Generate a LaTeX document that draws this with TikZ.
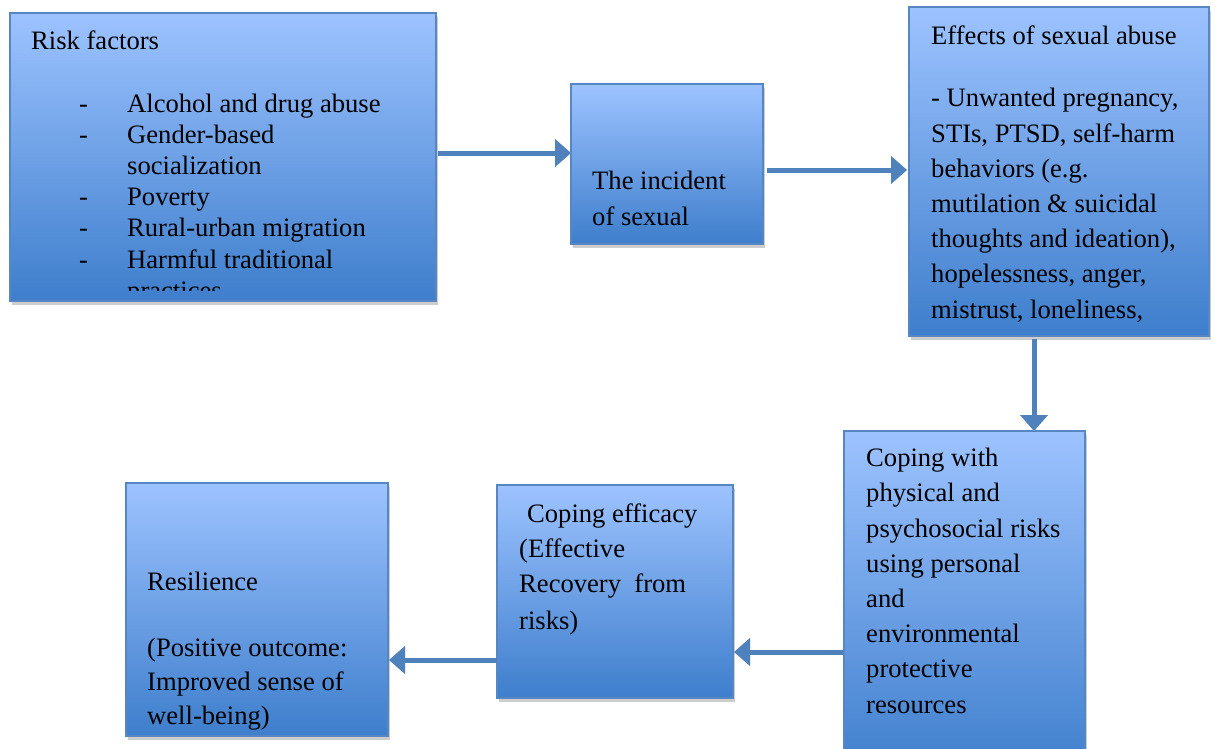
\documentclass[tikz,border=0pt]{standalone}
\usepackage{fontspec}
\setmainfont{Liberation Serif}
\usetikzlibrary{arrows.meta,shadows}
\definecolor{boxtop}{RGB}{157,195,255}
\definecolor{boxmid}{RGB}{127,172,240}
\definecolor{boxbot}{RGB}{62,126,204}
\definecolor{boxline}{RGB}{86,135,195}
\definecolor{arrblue}{RGB}{79,129,189}
\definecolor{shad}{RGB}{205,205,205}
\tikzset{
  box/.style={draw=boxline, line width=1.5pt, top color=boxtop, middle color=boxmid, bottom color=boxbot,
    anchor=north west, inner sep=0pt, outer sep=0pt,
    drop shadow={shadow xshift=1.5pt, shadow yshift=-4pt, fill=shad, opacity=1}},
  txt/.style={anchor=base west, inner sep=0pt, align=left, font=\fontsize{26.6}{35.2}\selectfont},
  txtb/.style={txt, font=\fontsize{26.6}{31.2}\selectfont},
  arr/.style={draw=arrblue, line width=5pt, -{Triangle[length=16pt,width=27pt]}},
  arrshadow/.style={draw=shad, line width=5pt, -{Triangle[length=16pt,width=27pt]}, shift={(2,3.5)}},
}
\newcommand{\dashitem}[1]{\makebox[48pt][l]{-}#1}
\begin{document}
\begin{tikzpicture}[x=1pt,y=-1pt]
\useasboundingbox (0,0) rectangle (1215,749);
% boxes
\node[box, minimum width=426pt, minimum height=288pt] (risk) at (10,13) {};
\node[box, minimum width=192pt, minimum height=160pt] (inc) at (571,84) {};
\node[box, minimum width=300pt, minimum height=329pt] (eff) at (909,7) {};
\node[box, minimum width=241pt, minimum height=345pt] (cop) at (844,431) {};
\node[box, minimum width=236pt, minimum height=213pt] (ceff) at (497,485) {};
\node[box, minimum width=262pt, minimum height=253pt] (res) at (126,483) {};
% texts (anchor = baseline of the last line)
\node[txt] (riskt) at (31,50) {Risk factors};
\begin{scope}
\clip (10,13) rectangle (436,290);
\node[txtb] (riskl) at (79,299.2) {\dashitem{Alcohol and drug abuse}\\
\dashitem{Gender-based}\\
\hspace*{48pt}socialization\\
\dashitem{Poverty}\\
\dashitem{Rural-urban migration}\\
\dashitem{Harmful traditional}\\
\hspace*{48pt}practices};
\end{scope}
\node[txt] (inct) at (592,225) {The incident\\of sexual};
\node[txt] (efft) at (931,45) {Effects of sexual abuse};
\node[txt] (effl) at (931,318) {- Unwanted pregnancy,\\STIs, PTSD, self-harm\\behaviors (e.g.\\mutilation \& suicidal\\thoughts and ideation),\\hopelessness, anger,\\mistrust, loneliness,};
\node[txt] (copt) at (866,713) {Coping with\\physical and\\psychosocial risks\\using personal\\and\\environmental\\protective\\resources};
\node[txt] (cefft) at (519,629.6) {\hspace*{8pt}Coping efficacy\\(Effective\\Recovery\ \ from\\[2pt]risks)};
\node[txt] (rest) at (147,590) {Resilience};
\node[txt, font=\fontsize{26.6}{34}\selectfont] (resl) at (147,724) {(Positive outcome:\\Improved sense of\\well-being)};
% connector levels
\coordinate (y1) at (0,153);
\coordinate (y2) at (0,170);
\coordinate (x3) at (1034,0);
\coordinate (y4) at (0,652);
\coordinate (y5) at (0,660);
% arrow shadows
\draw[arrshadow] ([xshift=2pt]risk.east |- y1) -- (inc.west |- y1);
\draw[arrshadow] ([xshift=4pt]inc.east |- y2) -- ([xshift=-2pt]eff.west |- y2);
\draw[arrshadow] ([yshift=-3pt]eff.south -| x3) -- (cop.north -| x3);
\draw[arrshadow] ([xshift=-1pt]cop.west |- y4) -- ([xshift=1pt]ceff.east |- y4);
\draw[arrshadow] (ceff.west |- y5) -- ([xshift=1pt]res.east |- y5);
% arrows
\draw[arr] ([xshift=2pt]risk.east |- y1) -- (inc.west |- y1);
\draw[arr] ([xshift=4pt]inc.east |- y2) -- ([xshift=-2pt]eff.west |- y2);
\draw[arr] ([yshift=-3pt]eff.south -| x3) -- (cop.north -| x3);
\draw[arr] ([xshift=-1pt]cop.west |- y4) -- ([xshift=1pt]ceff.east |- y4);
\draw[arr] (ceff.west |- y5) -- ([xshift=1pt]res.east |- y5);
\end{tikzpicture}
\end{document}
